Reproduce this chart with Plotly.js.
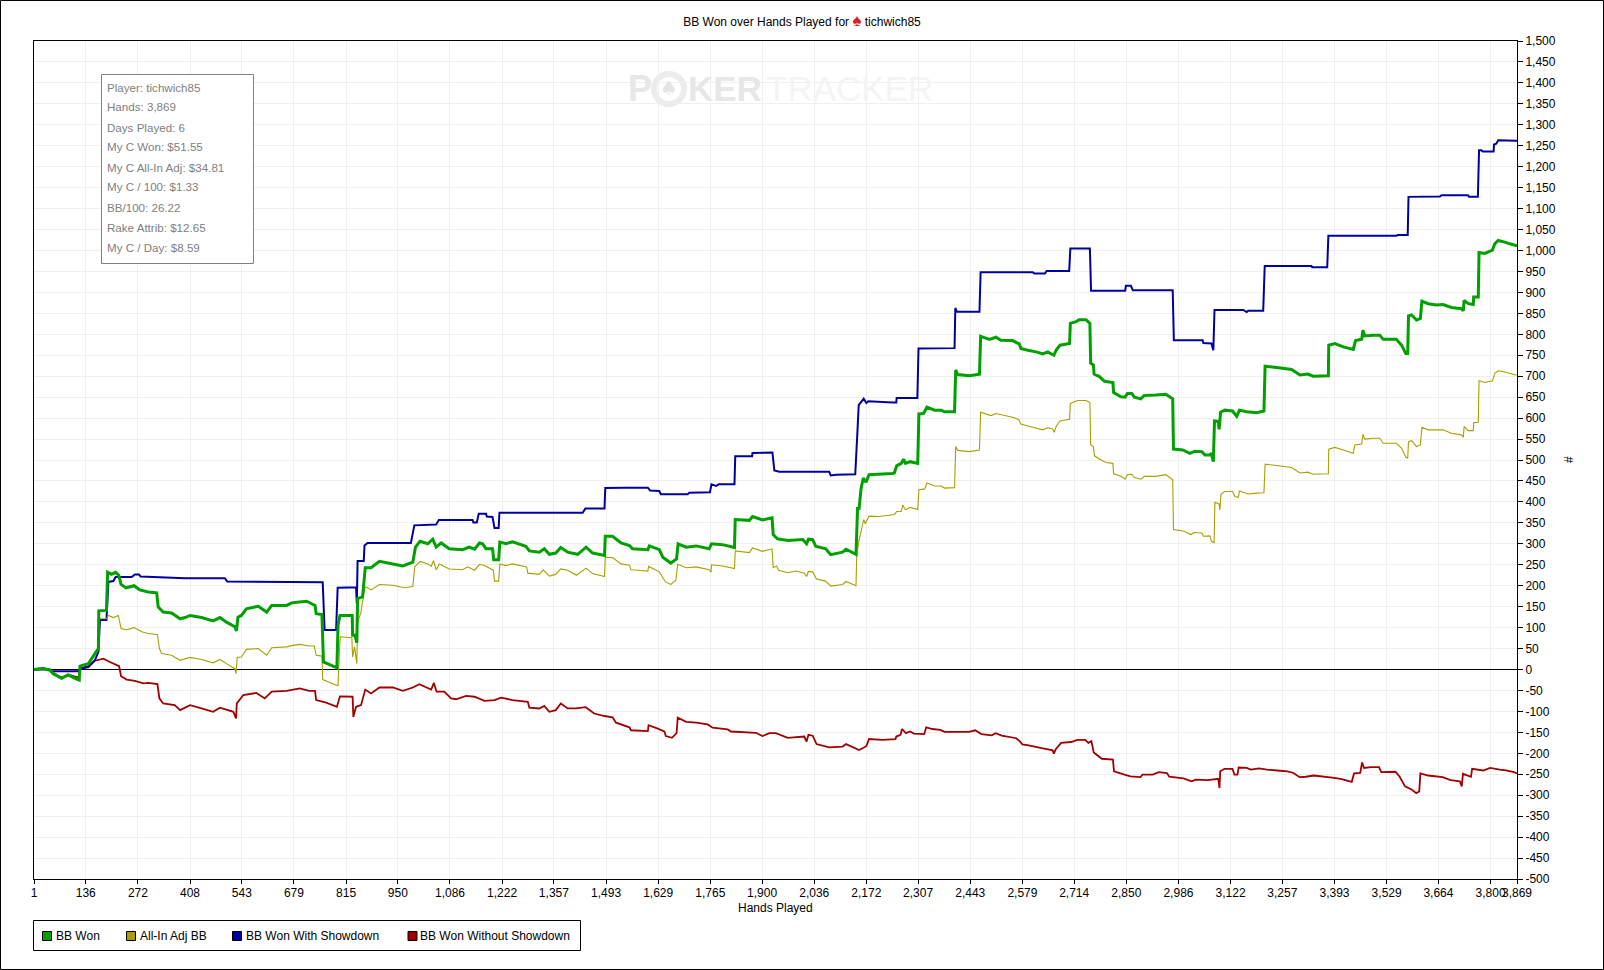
<!DOCTYPE html>
<html>
<head>
<meta charset="utf-8">
<script src="https://cdn.plot.ly/plotly-3.0.1.min.js"></script>
<style>html,body{margin:0;padding:0;background:#fff;overflow:hidden}#chart{width:1604px;height:970px}</style>
</head>
<body>
<div id="chart"></div>
<script>
const seriesNames = ["BB Won", "All-In Adj BB", "BB Won With Showdown", "BB Won Without Showdown"];
const seriesColors = ["#00A000", "#A8A000", "#0000A0", "#A00000"];
const chartTitle = 'BB Won over Hands Played for <span style="color:#d8231c;font-size:17px">♠</span> tichwich85';
const infoRows = ["Player: tichwich85","Hands: 3,869","Days Played: 6","My C Won: $51.55","My C All-In Adj: $34.81","My C / 100: $1.33","BB/100: 26.22","Rake Attrib: $12.65","My C / Day: $8.59"];
const xTickVals = [1,136,272,408,543,679,815,950,1086,1222,1357,1493,1629,1765,1900,2036,2172,2307,2443,2579,2714,2850,2986,3122,3257,3393,3529,3664,3800,3869];
const xTickText = ["1","136","272","408","543","679","815","950","1,086","1,222","1,357","1,493","1,629","1,765","1,900","2,036","2,172","2,307","2,443","2,579","2,714","2,850","2,986","3,122","3,257","3,393","3,529","3,664","3,800","3,869"];
const yTickVals = [1500,1450,1400,1350,1300,1250,1200,1150,1100,1050,1000,950,900,850,800,750,700,650,600,550,500,450,400,350,300,250,200,150,100,50,0,-50,-100,-150,-200,-250,-300,-350,-400,-450,-500];
const yTickText = ["1,500","1,450","1,400","1,350","1,300","1,250","1,200","1,150","1,100","1,050","1,000","950","900","850","800","750","700","650","600","550","500","450","400","350","300","250","200","150","100","50","0","-50","-100","-150","-200","-250","-300","-350","-400","-450","-500"];

const wonHands = [1,25,43,51,73,90,108,119,121,143,163,169,170,190,193,203,214,222,228,241,262,277,299,321,325,338,360,382,395,408,438,468,486,503,525,529,533,542,555,586,608,621,660,673,693,712,734,737,752,756,791,794,799,831,832,838,843,845,858,865,880,902,937,963,989,996,1008,1028,1041,1050,1063,1084,1119,1136,1150,1163,1171,1180,1197,1200,1213,1216,1232,1249,1284,1293,1319,1332,1345,1362,1375,1393,1419,1441,1458,1489,1491,1510,1532,1554,1562,1602,1606,1632,1641,1662,1677,1681,1702,1728,1762,1768,1797,1828,1830,1867,1875,1901,1926,1929,1940,1967,2006,2016,2021,2032,2040,2066,2079,2110,2119,2145,2149,2153,2158,2164,2171,2179,2240,2245,2251,2263,2269,2274,2286,2306,2309,2321,2330,2350,2367,2376,2402,2405,2410,2441,2467,2470,2493,2510,2523,2553,2571,2575,2593,2615,2632,2645,2661,2667,2677,2702,2704,2719,2727,2745,2755,2757,2764,2766,2780,2793,2815,2817,2836,2847,2853,2864,2871,2888,2897,2927,2953,2971,2973,2997,3016,3029,3047,3055,3068,3072,3077,3080,3090,3092,3096,3107,3127,3138,3145,3164,3190,3209,3212,3242,3281,3303,3324,3337,3377,3378,3394,3416,3442,3448,3464,3467,3472,3494,3511,3520,3554,3568,3579,3584,3586,3594,3607,3617,3621,3637,3659,3676,3698,3724,3729,3731,3742,3755,3756,3768,3770,3785,3805,3811,3820,3837,3850,3866,3869];
const wonBB = [0,3,-2,-10,-21,-13,-21,-25,8,14,42,50,140,141,232,227,232,225,203,195,200,190,185,183,149,137,135,121,124,129,124,116,124,113,102,92,125,129,145,151,137,153,153,159,161,163,153,133,131,18,4,106,129,129,82,82,64,169,173,243,243,258,252,247,256,292,306,300,311,292,302,288,286,292,287,302,300,288,288,262,262,304,300,305,294,283,280,288,275,278,291,280,275,292,278,272,318,318,302,296,288,286,295,286,268,254,264,300,292,295,288,300,298,291,358,356,365,357,362,322,312,308,310,300,311,310,294,288,274,280,287,275,384,384,431,457,447,465,468,469,486,492,502,492,496,492,610,611,626,619,619,615,615,715,704,701,705,795,788,793,786,785,777,766,762,758,753,758,750,762,774,778,826,830,835,835,826,731,727,705,699,688,685,661,651,650,659,659,650,646,654,655,657,646,526,524,516,521,520,512,512,516,496,593,592,573,614,619,617,604,619,615,613,617,724,721,716,703,705,700,701,774,778,770,764,785,788,810,796,798,798,788,788,774,754,754,844,846,834,838,879,873,870,871,864,861,856,881,873,871,889,889,995,993,1001,1016,1024,1020,1016,1012,1012];

const adjHands = [1,25,43,51,73,90,108,119,121,143,163,169,171,190,195,208,221,228,243,262,282,299,323,328,334,360,382,408,438,468,486,503,525,528,531,542,555,586,608,621,660,673,693,719,732,737,752,754,791,794,798,800,830,832,837,843,845,854,863,867,880,902,937,967,989,994,1008,1028,1037,1043,1050,1058,1084,1119,1132,1150,1163,1176,1199,1202,1213,1216,1232,1249,1286,1289,1319,1329,1345,1362,1375,1393,1416,1441,1458,1489,1491,1510,1532,1554,1558,1576,1602,1604,1632,1648,1662,1675,1680,1702,1728,1762,1767,1768,1797,1828,1830,1867,1875,1901,1926,1929,1938,1943,1967,1989,2010,2016,2021,2032,2042,2066,2079,2110,2119,2145,2147,2153,2165,2169,2179,2205,2245,2251,2263,2267,2274,2286,2306,2309,2324,2330,2350,2367,2376,2402,2405,2410,2441,2467,2470,2497,2510,2553,2569,2575,2593,2632,2645,2658,2662,2667,2677,2702,2704,2723,2745,2755,2757,2764,2767,2784,2797,2815,2817,2836,2847,2853,2864,2871,2888,2897,2927,2953,2971,2973,3001,3018,3027,3047,3051,3068,3072,3079,3081,3092,3094,3097,3107,3127,3133,3142,3145,3168,3190,3209,3212,3242,3281,3303,3324,3337,3377,3378,3394,3416,3442,3446,3464,3467,3472,3494,3511,3520,3554,3568,3579,3584,3586,3594,3607,3617,3621,3637,3676,3698,3724,3729,3731,3742,3755,3756,3768,3770,3785,3805,3811,3820,3837,3866,3869];
const adjBB = [0,3,-2,-10,-21,-13,-21,-25,8,14,42,50,121,121,129,124,129,98,95,100,90,86,83,50,38,34,22,29,24,16,24,14,2,-10,29,30,48,50,34,52,54,57,60,56,56,34,32,-24,-38,-38,54,78,76,30,54,14,113,137,193,197,190,203,201,195,198,245,258,252,246,260,238,252,240,238,245,237,251,248,237,211,211,252,248,252,245,230,227,238,223,227,240,237,225,242,229,222,268,267,252,249,238,237,235,246,233,209,203,213,251,243,245,238,232,250,247,241,283,279,290,282,288,243,247,237,231,235,230,222,234,233,216,211,199,203,210,200,276,308,358,348,366,365,370,377,377,392,381,387,382,429,431,445,438,438,433,434,532,523,520,524,614,606,611,602,597,586,581,572,577,574,566,580,593,597,635,642,642,637,536,532,510,500,494,492,467,461,454,465,466,458,454,461,461,465,453,334,330,322,327,326,318,319,306,303,399,395,381,419,425,425,413,411,426,419,421,422,490,487,482,469,471,466,467,526,530,524,516,536,538,561,550,552,552,540,540,528,507,504,544,546,532,536,578,572,572,564,560,554,580,570,570,589,590,689,685,689,707,713,710,703,703];

const sdHands = [1,43,47,116,121,143,160,169,173,190,195,208,214,256,264,275,279,395,499,505,754,759,789,793,824,841,843,845,861,863,871,984,993,1050,1057,1145,1147,1156,1161,1180,1182,1197,1202,1213,1215,1432,1439,1489,1491,1541,1602,1608,1632,1636,1706,1710,1764,1768,1780,1787,1828,1830,1874,1875,1927,1932,1945,2075,2079,2093,2143,2149,2152,2165,2172,2177,2240,2250,2251,2305,2308,2402,2404,2408,2467,2470,2606,2610,2638,2642,2701,2704,2755,2758,2847,2849,2862,2867,2971,2974,3049,3051,3072,3077,3080,3155,3164,3168,3207,3211,3333,3335,3374,3377,3555,3557,3584,3586,3668,3672,3741,3744,3767,3770,3776,3780,3808,3809,3815,3820,3866,3869];
const sdBB = [0,0,-4,-4,2,6,22,42,118,118,209,211,221,221,227,227,222,218,218,210,208,94,94,195,196,196,157,259,259,296,302,302,344,346,357,357,351,351,372,372,365,364,338,338,374,374,384,384,433,434,434,427,426,418,418,422,423,442,438,442,442,509,509,517,518,475,472,472,463,465,466,573,631,646,636,640,637,637,648,648,766,767,863,854,854,948,948,945,945,951,951,1005,1005,904,904,916,916,905,905,786,786,779,778,762,858,858,853,856,856,963,963,960,960,1035,1035,1037,1037,1128,1129,1132,1132,1128,1128,1239,1239,1236,1236,1253,1255,1263,1262,1262];

const nsdHands = [1,25,43,47,73,90,108,118,121,143,160,182,199,223,228,243,264,286,299,323,328,338,368,382,408,438,468,486,521,528,530,547,581,603,621,660,694,719,734,737,763,791,799,832,834,841,854,865,880,902,937,963,989,1006,1037,1044,1051,1071,1089,1102,1128,1150,1176,1202,1219,1249,1289,1293,1319,1332,1345,1362,1375,1393,1414,1440,1462,1489,1510,1519,1554,1558,1602,1604,1628,1645,1649,1665,1677,1680,1702,1728,1758,1771,1810,1819,1884,1901,1919,1936,1967,2010,2016,2021,2032,2042,2075,2110,2119,2153,2172,2179,2214,2248,2250,2261,2265,2275,2286,2296,2323,2328,2344,2365,2376,2440,2456,2472,2499,2509,2525,2563,2573,2579,2595,2626,2658,2661,2666,2680,2706,2722,2743,2751,2759,2765,2786,2815,2818,2845,2861,2887,2892,2919,2935,2956,2962,2999,3020,3031,3063,3090,3093,3095,3106,3127,3132,3140,3143,3164,3175,3196,3217,3244,3270,3286,3302,3318,3339,3387,3409,3438,3444,3460,3465,3470,3488,3509,3515,3552,3563,3577,3595,3606,3614,3617,3637,3675,3696,3720,3725,3728,3749,3752,3781,3799,3824,3840,3861,3869];
const nsdBB = [0,3,-2,-6,-20,-12,-17,-19,2,8,21,26,18,8,-16,-24,-27,-33,-32,-35,-69,-81,-85,-97,-85,-93,-101,-91,-101,-117,-81,-61,-56,-69,-53,-51,-45,-51,-51,-73,-79,-89,-64,-65,-113,-89,-85,-48,-57,-43,-43,-51,-43,-35,-48,-32,-53,-53,-69,-71,-63,-65,-75,-73,-67,-73,-77,-91,-93,-87,-101,-97,-81,-93,-93,-90,-105,-111,-114,-127,-138,-145,-147,-133,-141,-148,-159,-163,-152,-115,-125,-127,-131,-139,-143,-148,-151,-159,-152,-152,-163,-160,-172,-156,-158,-178,-186,-184,-178,-192,-183,-166,-168,-166,-160,-156,-142,-152,-148,-153,-154,-138,-142,-144,-149,-149,-145,-154,-157,-152,-158,-164,-172,-179,-181,-187,-193,-201,-190,-175,-173,-168,-168,-175,-171,-198,-213,-215,-243,-251,-255,-257,-251,-251,-245,-247,-256,-260,-267,-263,-264,-261,-283,-243,-237,-237,-251,-251,-234,-235,-239,-236,-239,-241,-243,-247,-257,-256,-253,-258,-261,-268,-248,-247,-222,-235,-233,-233,-245,-244,-256,-279,-287,-295,-291,-248,-253,-257,-264,-267,-279,-249,-256,-237,-241,-235,-239,-241,-245,-248];

/* page geometry, in pixels, converted to paper fractions for the furniture */
const W = 1604, H = 970, L = 34, R = 1517, T = 41, B = 879;
const fx = p => (p - L) / (R - L);
const fy = p => 1 - (p - T) / (B - T);

function lineTrace(i, xs, ys, width) {
  return {type:'scatter', mode:'lines', name:seriesNames[i], x:xs, y:ys,
    line:{color:seriesColors[i], width:width, simplify:false}, hoverinfo:'x+y+name'};
}
const traces = [
  lineTrace(3, nsdHands, nsdBB, 1.8),
  lineTrace(2, sdHands, sdBB, 2),
  lineTrace(1, adjHands, adjBB, 1.1),
  lineTrace(0, wonHands, wonBB, 3)
];

const mainFont = 'Liberation Sans, Arial, sans-serif';
const shapes = [], annotations = [];
function rectPx(x0, y0, x1, y1, line, fill, width) {
  shapes.push({type:'rect', xref:'paper', yref:'paper', x0:fx(x0), y0:fy(y0), x1:fx(x1), y1:fy(y1),
    line:{color:line, width:width === undefined ? 1 : width}, fillcolor:fill || 'rgba(0,0,0,0)', layer:'above'});
}
function textPx(x, y, text, opt) {
  opt = opt || {};
  annotations.push({xref:'paper', yref:'paper', x:fx(x), y:fy(y), text:text, showarrow:false,
    xanchor:opt.xanchor || 'left', yanchor:'middle', align:'left', borderpad:0,
    font:{family:opt.family || mainFont, size:opt.size || 12, color:opt.color || '#000'}});
}

/* outer frame */
rectPx(0.5, 0.5, 1603.5, 969.5, '#000');

/* watermark */
textPx(627, 88, '<b>P</b>', {size:36, color:'#e7e7e7'});
shapes.push({type:'circle', xref:'paper', yref:'paper', x0:fx(654), x1:fx(684), y0:fy(74), y1:fy(104),
  line:{color:'#ececec', width:6}, fillcolor:'rgba(0,0,0,0)', layer:'below'});
textPx(669, 88, '♠', {size:20, color:'#e4e4e4', xanchor:'center', family:'DejaVu Sans'});
textPx(687, 88, '<b>KER</b>', {size:35, color:'#e7e7e7'});
textPx(765, 88, 'TRACKER', {size:35, color:'#f4f4f4'});

/* info box */
rectPx(101.5, 74.5, 253.5, 263.5, '#808080', '#ffffff');
infoRows.forEach((row, i) => textPx(105.5, 87 + i * 20, row, {color:'#808080', size:11.6}));

/* legend */
rectPx(33.5, 920.5, 580.5, 950.5, '#000', '#ffffff');
const legendOrder = [[42, 54.5], [126, 138.5], [232, 244.5], [407.5, 419.5]];
seriesNames.forEach((name, i) => {
  rectPx(legendOrder[i][0] + 0.5, 931.5, legendOrder[i][0] + 9.5, 940.5, '#000', seriesColors[i]);
  textPx(legendOrder[i][1], 936, name, {size:12});
});

/* axis titles */
textPx(775, 908, 'Hands Played', {xanchor:'center', size:12});
annotations.push({xref:'paper', yref:'paper', x:fx(1569), y:fy(460), text:'#', textangle:-90, showarrow:false,
  xanchor:'center', yanchor:'middle', font:{family:mainFont, size:12, color:'#000'}});

const layout = {
  width:W, height:H, autosize:false, showlegend:false,
  paper_bgcolor:'#fff', plot_bgcolor:'#fff',
  margin:{l:L, r:W - R, t:T, b:H - B, pad:0},
  title:{text:chartTitle, x:0.5, xanchor:'center', xref:'container', y:1 - 22 / H, yanchor:'middle', yref:'container',
    font:{family:mainFont, size:12, color:'#000'}},
  xaxis:{range:[1, 3869], tickmode:'array', tickvals:xTickVals, ticktext:xTickText, tickangle:0,
    showgrid:true, gridcolor:'#efefef', gridwidth:1, zeroline:false,
    showline:true, linecolor:'#000', linewidth:1, mirror:true,
    ticks:'outside', ticklen:4, tickcolor:'#000', tickwidth:1, ticklabelstandoff:-1,
    tickfont:{family:mainFont, size:12, color:'#000'}},
  yaxis:{range:[-500, 1500], side:'right', tickmode:'array', tickvals:yTickVals, ticktext:yTickText,
    showgrid:true, gridcolor:'#efefef', gridwidth:1,
    zeroline:true, zerolinecolor:'#000', zerolinewidth:1,
    showline:true, linecolor:'#000', linewidth:1, mirror:true,
    ticks:'outside', ticklen:5, tickcolor:'#000', tickwidth:1,
    tickfont:{family:mainFont, size:12, color:'#000'}},
  shapes:shapes, annotations:annotations
};
Plotly.newPlot('chart', traces, layout, {displayModeBar:false, staticPlot:true});
</script>
</body>
</html>
